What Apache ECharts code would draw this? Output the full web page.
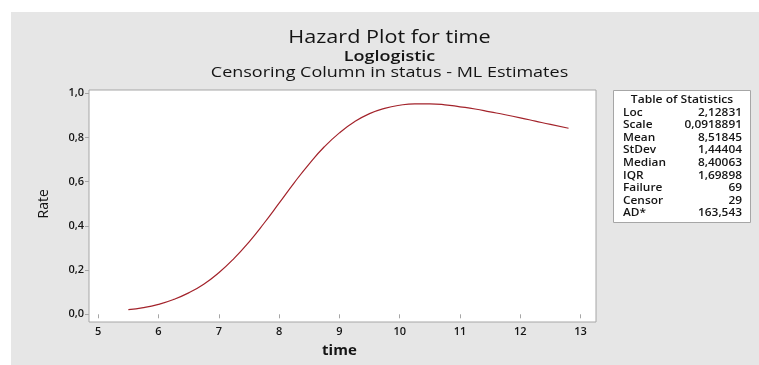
<!DOCTYPE html>
<html>
<head>
<meta charset="utf-8">
<script src="https://cdn.jsdelivr.net/npm/echarts@6/dist/echarts.min.js"></script>
<style>
  html, body { margin: 0; padding: 0; background: #fff; }
  #chart { width: 759px; height: 365px; }
</style>
</head>
<body>
<div id="chart"></div>
<script>
// hazard curve
const timeValues = [5.5, 5.75, 6, 6.25, 6.5, 6.75, 7, 7.25, 7.5, 7.75, 8, 8.25, 8.5, 8.75, 9, 9.25, 9.5, 9.75, 10, 10.25, 10.5, 10.75, 11, 11.25, 11.5, 11.75, 12, 12.25, 12.5, 12.8]
const rateValues = [0.021, 0.030, 0.045, 0.067, 0.097, 0.136, 0.188, 0.252, 0.327, 0.412, 0.503, 0.595, 0.681, 0.758, 0.821, 0.871, 0.908, 0.932, 0.946, 0.952, 0.952, 0.948, 0.939, 0.929, 0.916, 0.903, 0.889, 0.874, 0.859, 0.842]

const xTickLabels = ['5', '6', '7', '8', '9', '10', '11', '12', '13']
const yTickLabels = ['0,0', '0,2', '0,4', '0,6', '0,8', '1,0']

const statNames = ['Loc', 'Scale', 'Mean', 'StDev', 'Median', 'IQR', 'Failure', 'Censor', 'AD*']
const statValues = ['2,12831', '0,0918891', '8,51845', '1,44404', '8,40063', '1,69898', '69', '29', '163,543']

const FONT = '"Open Sans", "Noto Sans", sans-serif'
const AXIS_GREY = '#a6a6a6'
const TEXT = '#141414'
// the source picture is a little stretched sideways
const STRETCH = 1.2

const chart = echarts.init(document.getElementById('chart'))

function label(x, y, text, font, align, sx) {
	return {
		type: 'text', x: x, y: y, scaleX: sx,
		style: { text: text, font: font, fill: TEXT, textAlign: align, textVerticalAlign: 'middle' }
	}
}

const statGraphics = []
statNames.forEach((name, i) => {
	const y = 112.5 + i * 12.6
	statGraphics.push(label(623, y, name, '600 11px ' + FONT, 'left', 1.08))
	statGraphics.push(label(742, y, statValues[i], '600 11px ' + FONT, 'right', 1.08))
})

const option = {
	backgroundColor: '#fff',
	animation: false,
	grid: [
		// plot frame
		{ left: 89, top: 90, width: 507, height: 232, show: true, backgroundColor: '#fff', borderColor: AXIS_GREY, borderWidth: 1 },
		// data area (5..13, 0..1)
		{ left: 98.2, top: 93.3, width: 482.4, height: 221 }
	],
	xAxis: [
		{ gridIndex: 0, type: 'value', show: false, min: 0, max: 1 },
		{
			gridIndex: 1, type: 'value', min: 5, max: 13, interval: 1, offset: 7.7,
			name: 'time', nameLocation: 'middle', nameGap: 21,
			nameTextStyle: { fontFamily: FONT, fontSize: 15, fontWeight: 'bold', color: TEXT },
			axisLine: { show: false },
			axisTick: { show: true, length: 4, lineStyle: { color: AXIS_GREY } },
			axisLabel: {
				fontFamily: FONT, fontSize: 11, fontWeight: 600, color: TEXT, margin: 4,
				formatter: (v) => xTickLabels[Math.round(v - 5)]
			},
			splitLine: { show: false }
		}
	],
	yAxis: [
		{ gridIndex: 0, type: 'value', show: false, min: 0, max: 1 },
		{
			gridIndex: 1, type: 'value', min: 0, max: 1, interval: 0.2, offset: 9.2,
			name: 'Rate', nameLocation: 'middle', nameGap: 38,
			nameTextStyle: { fontFamily: FONT, fontSize: 14, color: TEXT },
			axisLine: { show: false },
			axisTick: { show: true, length: 4, lineStyle: { color: AXIS_GREY } },
			axisLabel: {
				fontFamily: FONT, fontSize: 11, fontWeight: 600, color: TEXT, margin: 5,
				formatter: (v) => yTickLabels[Math.round(v * 5)]
			},
			splitLine: { show: false }
		}
	],
	graphic: [
		{ type: 'rect', z: -100, shape: { x: 11, y: 12, width: 748, height: 353 }, style: { fill: '#e6e6e6' } },
		label(389.5, 37.5, 'Hazard Plot for time', '18px ' + FONT, 'center', STRETCH),
		label(389.5, 57, 'Loglogistic', '600 15px ' + FONT, 'center', STRETCH),
		label(389.5, 72.5, 'Censoring Column in status - ML Estimates', '15px ' + FONT, 'center', STRETCH),
		{ type: 'rect', shape: { x: 613.5, y: 90.5, width: 137, height: 132 }, style: { fill: '#fff', stroke: AXIS_GREY, lineWidth: 1 } },
		label(682, 99.5, 'Table of Statistics', '600 11px ' + FONT, 'center', 1.1)
	].concat(statGraphics),
	series: [{
		name: 'Hazard',
		type: 'line',
		xAxisIndex: 1,
		yAxisIndex: 1,
		data: timeValues.map((t, i) => [t, rateValues[i]]),
		smooth: true,
		showSymbol: false,
		lineStyle: { color: '#a3232b', width: 1.2 },
		itemStyle: { color: '#a3232b' }
	}]
}

chart.setOption(option)
</script>
</body>
</html>
